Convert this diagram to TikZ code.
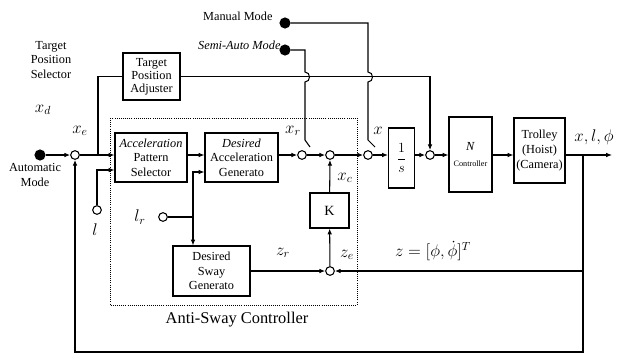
\documentclass[tikz,border=0pt]{standalone}
\usepackage{amssymb,amsmath}
\usepackage{fontspec}
\setmainfont{Liberation Serif}
\usetikzlibrary{arrows.meta}

\begin{document}
\begin{tikzpicture}[x=0.03cm,y=-0.03cm,line width=0.9pt,
    block/.style={draw,align=center,inner sep=1pt,font=\fontsize{10.5}{12.5}\selectfont},
    sumpt/.style={circle,draw,fill=white,minimum size=0.26cm,inner sep=0pt},
    source/.style={circle,draw,fill=black,minimum size=0.3cm,inner sep=0pt},
    txt/.style={font=\fontsize{10.5}{12.5}\selectfont,align=center,inner sep=0pt},
    sig/.style={font=\fontsize{14}{14}\selectfont,inner sep=0pt},
    arr/.style={-{Latex[length=5pt,width=4pt]}}]

\useasboundingbox (0,0) rectangle (622,354);

% Blocks
\node[block,minimum width=1.71cm,minimum height=1.41cm,font=\fontsize{10.5}{11}\selectfont] (tpa) at (151.5,76.5) {Target\\Position\\Adjuster};
\node[block,minimum width=2.16cm,minimum height=1.47cm] (aps) at (151,157.5) {\textit{Acceleration}\\Pattern\\Selector};
\node[block,minimum width=2.19cm,minimum height=1.47cm] (dag) at (241.5,157.5) {\textit{Desired}\\Acceleration\\Generato};
\node[block,minimum width=2.31cm,minimum height=1.5cm] (dsg) at (211.5,271) {Desired\\Sway\\Generato};
\node[block,minimum width=1.17cm,minimum height=1.05cm,font=\fontsize{12}{12}\selectfont] (gain) at (329.5,210.5) {K};
\node[block,minimum width=0.78cm,minimum height=1.8cm,font=\fontsize{13}{13}\selectfont] (integ) at (401.5,158) {$\dfrac{1}{s}$};
\node[block,minimum width=1.29cm,minimum height=2.25cm] (nctrl) at (470.5,154.5) {\textit{N}\\[2pt]{\fontsize{7}{8}\selectfont Controller}};
\node[block,minimum width=1.53cm,minimum height=1.95cm] (trolley) at (539.5,150.5) {Trolley\\(Hoist)\\(Camera)};

% Sources, switches and summing points
\node[source] (autodot) at (40,155) {};
\node[source] (manualdot) at (285,23) {};
\node[source] (semidot) at (285,50) {};
\node[sumpt] (sumA) at (75,155) {};
\node[sumpt] (lcirc) at (97,210) {};
\node[sumpt] (lrcirc) at (163,217) {};
\node[sumpt] (xrsw) at (302,155) {};
\node[sumpt] (sumB) at (330,155) {};
\node[sumpt] (xsw) at (368,155) {};
\node[sumpt] (sumC) at (430,155) {};
\node[sumpt] (sumD) at (330,271) {};

\coordinate (xejoin) at (98,155);
\coordinate (lrjoin) at (193,217);
\coordinate (tap) at (583,155);
\coordinate (out) at (612,155);
\coordinate (fbcorner) at (75,352);
\coordinate (semiarm) at (310,147);
\coordinate (manualarm) at (375,147);

% Anti-sway controller frame
\draw[densely dotted,line width=0.8pt] (110,118) rectangle (357,305);
\node[font=\fontsize{14}{14}\selectfont,inner sep=0pt] (aswlabel) at (237,320) {Anti-Sway Controller};

% Labels
\node[txt,anchor=east] (manuallbl) at (273,16) {Manual Mode};
\node[txt,anchor=east] (semilbl) at (281,45) {\textit{Semi-Auto Mode}};
\node[txt] (tpslbl) at (51,60) {Target\\Position\\Selector};
\node[txt] (autolbl) at (35,175) {Automatic\\Mode};
\node[sig] (xdlbl) at (43,110) {$x_d$};
\node[sig] (xelbl) at (80,131) {$x_e$};
\node[sig] (llbl) at (95,230) {$l$};
\node[sig] (lrlbl) at (140,217) {$l_r$};
\node[sig] (xrlbl) at (293,131) {$x_r$};
\node[sig] (xlbl) at (378,131) {$x$};
\node[sig] (xclbl) at (345,178) {$x_c$};
\node[sig] (zelbl) at (347,255) {$z_e$};
\node[sig] (zrlbl) at (283,253) {$z_r$};
\node[sig] (zlbl) at (433,251) {$z=[\phi,\dot{\phi}]^T$};
\node[sig] (outlbl) at (594,137) {$x,l,\phi$};

% Forward path
\draw[arr] (autodot) -- (sumA);
\draw[arr] (sumA) -- (aps.west |- sumA);
\draw (xejoin) |- (tpa.west);
\draw[arr] (tpa.east) -| (sumC);
\draw[arr] (lcirc) |- ([yshift=-0.375cm]aps.west);
\draw[arr] (aps.east |- sumA) -- (dag.west |- sumA);
\draw (lrcirc) -- (lrjoin);
\draw[arr] (lrjoin) |- ([yshift=-0.435cm]dag.west);
\draw[arr] (lrjoin) -- (lrjoin |- dsg.north);
\draw[arr] (dag.east |- sumA) -- (xrsw);
\draw[arr] (xrsw) -- (sumB);
\draw[arr] (sumB) -- (xsw);
\draw[arr] (xsw) -- (integ.west |- xsw);
\draw[arr] (integ.east |- sumC) -- (sumC);
\draw[arr] (sumC) -- (nctrl.west |- sumC);
\draw[arr] (nctrl.east |- sumC) -- (trolley.west |- sumC);
\draw[arr] (trolley.east |- sumC) -- (out);

% Sway loop and position feedback
\draw[arr] (dsg.east) -- (sumD);
\draw[arr] (tap) |- (sumD);
\draw[arr] (sumD) -- (gain);
\draw[arr] (gain) -- (sumB);
\draw[arr] (tap) |- (fbcorner) -- (sumA);

% Mode switches, jumping the adjuster line
\draw (semidot) -- (305,50) -- (305,72) .. controls (311,72) and (311,82) .. (305,82) -- (305,140) -- (semiarm);
\draw (manualdot) -- (368,23) -- (368,72) .. controls (374,72) and (374,82) .. (368,82) -- (368,140) -- (manualarm);

\end{tikzpicture}
\end{document}
